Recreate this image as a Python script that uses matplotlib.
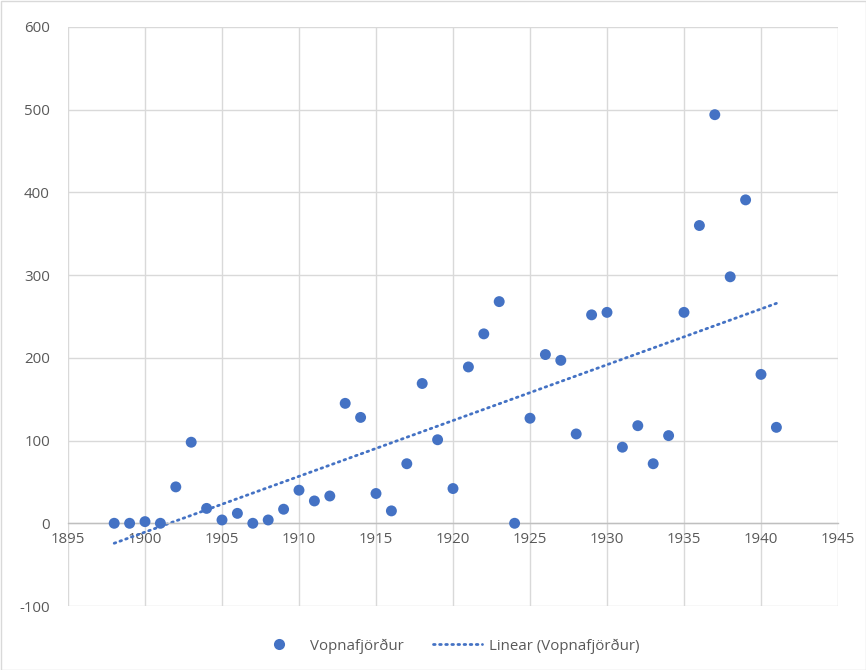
import numpy as np
import matplotlib
matplotlib.use("Agg")
import matplotlib.pyplot as plt
from matplotlib.lines import Line2D
from matplotlib.patches import Rectangle

years = list(range(1898, 1942))
values = [0, 0, 2, 0, 44, 98, 18, 4, 12, 0,
          4, 17, 40, 27, 33, 145, 128, 36, 15, 72,
          169, 101, 42, 189, 229, 268, 0, 127, 204, 197,
          108, 252, 255, 92, 118, 72, 106, 255, 360, 494,
          298, 391, 180, 116]
series_name = "Vopnafjörður"
trend_name = "Linear (Vopnafjörður)"
x_ticks = [1895, 1900, 1905, 1910, 1915, 1920, 1925, 1930, 1935, 1940, 1945]
y_ticks = [-100, 0, 100, 200, 300, 400, 500, 600]

plt.rcParams['font.family'] = ['Open Sans', 'DejaVu Sans']
plt.rcParams['axes.unicode_minus'] = False
blue = '#4472C4'
grey_text = '#595959'
grid_c = '#D9D9D9'
fs = 10.8

fig = plt.figure(figsize=(8.66, 6.70), dpi=100)
ax = fig.add_axes([68/866, (670-606)/670, (838-68)/866, (606-27)/670])

x = np.array(years, dtype=float)
y = np.array(values, dtype=float)
coef = np.polyfit(x, y, 1)
xt = np.array([x.min(), x.max()])
ax.plot(xt, np.polyval(coef, xt), color=blue, lw=2.0, linestyle=(0, (0.6, 1.6)),
        dash_capstyle='round', zorder=2)
ax.scatter(x, y, s=62, color=blue, edgecolors='none', zorder=3)

ax.set_xlim(1895, 1945)
ax.set_ylim(-100, 600)
ax.set_xticks(x_ticks)
ax.set_yticks(y_ticks)
ax.grid(True, color=grid_c, lw=1.0, zorder=0)
ax.set_axisbelow(True)
for s in ['top', 'right', 'left']:
    ax.spines[s].set_visible(False)
ax.spines['bottom'].set_position(('data', 0))
ax.spines['bottom'].set_color('#BFBFBF')
ax.spines['bottom'].set_linewidth(1.0)
ax.tick_params(axis='both', length=0, labelsize=fs, colors=grey_text)
ax.tick_params(axis='y', pad=13)
ax.tick_params(axis='x', pad=6)

handles = [Line2D([], [], linestyle='none', marker='o', markersize=8, color=blue,
                  markeredgewidth=0),
           Line2D([], [], color=blue, lw=2.0, linestyle=(0, (0.6, 1.6)),
                  dash_capstyle='round')]
fig.legend(handles, [series_name, trend_name], loc='center', ncol=2,
           bbox_to_anchor=(0.516, (670-646)/670), frameon=False, fontsize=fs,
           labelcolor=grey_text, handlelength=3.3, handletextpad=0.45,
           columnspacing=1.9)

fig.patches.append(Rectangle((0.5/866, 0.5/670), 1-1/866, 1-1/670,
                             transform=fig.transFigure, fill=False,
                             edgecolor='#D9D9D9', lw=1.0))
fig.savefig('out.png', dpi=100)
